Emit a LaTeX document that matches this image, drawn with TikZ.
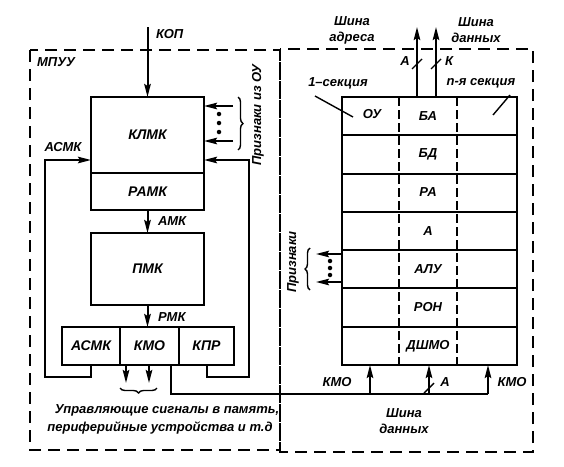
\documentclass[tikz,border=0pt]{standalone}
\usepackage{fontspec}
\setmainfont{Liberation Sans}
\usetikzlibrary{arrows.meta,decorations.pathreplacing,calc}
\begin{document}
\begin{tikzpicture}[x=1pt,y=-1pt,
  line width=2pt,
  font=\bfseries\itshape\fontsize{13}{16}\selectfont,
  blk/.style={draw, line width=2pt, inner sep=0pt, outer sep=0pt, font=\bfseries\itshape\fontsize{14}{16}\selectfont},
  lbl/.style={inner sep=0pt},
  arr/.style={-{Stealth[length=13pt,width=6.5pt,inset=2pt]}},
  frame/.style={draw, line width=1.8pt, dash pattern=on 12pt off 7pt},
  brc/.style={decorate, decoration={brace, amplitude=5pt}, line width=1.4pt},
  dotc/.style={circle, fill, inner sep=0pt, minimum size=4.5pt},
  slash/.style={line width=1.4pt},
]
\useasboundingbox (0,0) rectangle (564,466);
% frames
\draw[frame] (30,50) rectangle (280,450);
\draw[frame] (280,49) rectangle (533,452);
\node[lbl] (mpuu) at (56,62) {МПУУ};

% left blocks
\node[blk, minimum width=113, minimum height=76] (klmk) at (147.5,135) {КЛМК};
\node[blk, minimum width=113, minimum height=37] (ramk) at (147.5,191.5) {РАМК};
\node[blk, minimum width=113, minimum height=72] (pmk) at (147.5,269) {ПМК};
\node[blk, minimum width=58, minimum height=38] (asmk) at (91,346) {АСМК};
\node[blk, minimum width=59, minimum height=38] (kmo) at (149.5,346) {КМО};
\node[blk, minimum width=55, minimum height=38] (kpr) at (206.5,346) {КПР};

% KOP
\coordinate (kop) at (147.5,27);
\draw[arr] (kop) -- (klmk.north);
\node[lbl, anchor=west] (kopl) at (155,34) {КОП};

% AMK, RMK
\draw[arr] (ramk.south) -- (pmk.north);
\node[lbl, anchor=west] (amkl) at (157,221) {АМК};
\draw[arr] (pmk.south) -- (kmo.north -| pmk.south);
\node[lbl, anchor=west] (rmkl) at (157,317) {РМК};

% ASMK loop
\coordinate (la) at (45,160);
\draw[arr] (asmk.south) -- ++(0,12) -| (la) -- (la -| klmk.west);
\node[lbl] (asmkl) at (63,147) {АСМК};
% KPR loop
\coordinate (ra) at (249,160);
\draw[arr] (kpr.south) -- ++(0,12) -| (ra) -- (ra -| klmk.east);

% signs into KLMK
\coordinate (s1) at (233,106);
\coordinate (s2) at (233,141);
\draw[arr] (s1) -- (s1 -| klmk.east);
\draw[arr] (s2) -- (s2 -| klmk.east);
\node[dotc] (d1) at (219,114) {};
\node[dotc] (d2) at (219,123) {};
\node[dotc] (d3) at (219,132) {};
\draw[brc] (238,97) -- (238,150);
\node[lbl, rotate=90] (prou) at (258,115) {Признаки из ОУ};

% KMO outputs
\coordinate (o1) at (126,383);
\coordinate (o2) at (149,383);
\draw[arr] (o1 |- kmo.south) -- (o1);
\draw[arr] (o2 |- kmo.south) -- (o2);
\draw[brc] (157,388) -- (120,388);
\node[lbl] (ctl1) at (167,410) {Управляющие сигналы в память,};
\node[lbl] (ctl2) at (160,428) {периферийные устройства и т.д};

% table
\node[draw, line width=2pt, inner sep=0pt, outer sep=0pt, minimum width=175, minimum height=268] (tbl) at (429.5,231) {};
\foreach \k in {1,...,6} {
  \draw (tbl.north west) ++(0,{38.2857*\k}) -- ++(175,0);
}
\draw[line width=1.8pt, dash pattern=on 9pt off 4pt] (tbl.north west) ++(57,0) -- ++(0,268);
\draw[line width=1.8pt, dash pattern=on 9pt off 4pt] (tbl.north west) ++(115,0) -- ++(0,268);
\node[lbl] (ou) at (372,114) {ОУ};
\node[lbl] (ba) at (428,116) {БА};
\node[lbl] (bd) at (428,154) {БД};
\node[lbl] (ra2) at (428,192) {РА};
\node[lbl] (a) at (428,231) {А};
\node[lbl] (alu) at (428,269) {АЛУ};
\node[lbl] (ron) at (428,307) {РОН};
\node[lbl] (dshmo) at (428,346) {ДШМО};

% section labels
\node[lbl] (sec1) at (338,83) {1–секция};
\node[lbl] (secn) at (481,83) {n-я секция};
\coordinate (sec1e) at (353,117);
\coordinate (secne) at (493,115);
\draw[slash] (315,96) -- (sec1e);
\draw[slash] (510,95) -- (secne);

% top buses
\coordinate (adr) at (417,27);
\coordinate (dat) at (436,27);
\draw[arr] (adr |- tbl.north) -- (adr);
\draw[arr] (dat |- tbl.north) -- (dat);
\draw[slash] (412,69) -- (422,59);
\draw[slash] (431,69) -- (441,59);
\node[lbl] (al) at (405,61) {А};
\node[lbl] (kl) at (449,61) {К};
\node[lbl, align=center] (sha) at (352,30) {Шина\\адреса};
\node[lbl, align=center] (shd) at (476,30) {Шина\\данных};

% priznaki from OU
\coordinate (p1) at (316,254);
\coordinate (p2) at (316,282);
\draw[arr] (p1 -| tbl.west) -- (p1);
\draw[arr] (p2 -| tbl.west) -- (p2);
\node[dotc] (e1) at (330,261) {};
\node[dotc] (e2) at (330,268) {};
\node[dotc] (e3) at (330,275) {};
\draw[brc] (310,290) -- (310,248);
\node[lbl, rotate=90] (pr) at (293,262) {Признаки};

% data bus bottom
\coordinate (b0) at (171,394);
\coordinate (b1) at (370,394);
\coordinate (b2) at (429,394);
\coordinate (b3) at (488,394);
\draw (b0 |- kmo.south) -- (b0) -- (b3);
\draw[arr] (b1) -- (b1 |- tbl.south);
\draw[arr] (b2) -- (b2 |- tbl.south);
\draw[arr] (b3) -- (b3 |- tbl.south);
\draw[slash] (424,393) -- (434,383);
\node[lbl] (al2) at (445,382) {А};
\node[lbl] (kmo1) at (337,382) {КМО};
\node[lbl] (kmo2) at (512,382) {КМО};
\node[lbl, align=center] (shd2) at (404,421) {Шина\\данных};
\end{tikzpicture}
\end{document}
